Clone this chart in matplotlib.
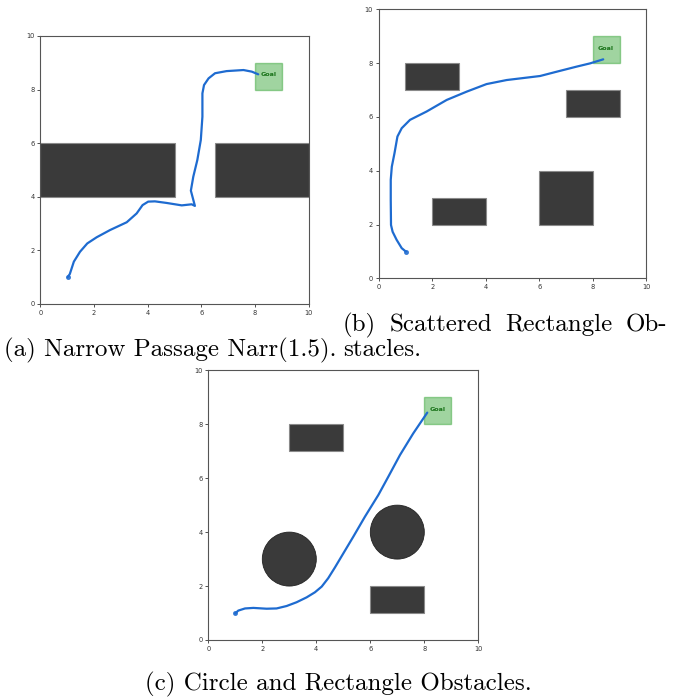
import matplotlib
matplotlib.use("Agg")
import matplotlib.pyplot as plt
from matplotlib.patches import Rectangle, Circle

W, H = 673, 698

# obstacles: (x, y, width, height) rectangles and (cx, cy, r) circles
narrow_rects = [(0, 4, 5, 2), (6.5, 4, 3.5, 2)]
scatter_rects = [(1, 7, 2, 1), (7, 6, 2, 1), (2, 2, 2, 1), (6, 2, 2, 2)]
mixed_rects = [(3, 7, 2, 1), (6, 1, 2, 1)]
mixed_circles = [(3, 3, 1), (7, 4, 1)]
goal = (8, 8, 1, 1)

# trajectories
path_a_x = [1.02, 1.10, 1.25, 1.48, 1.75, 2.10, 2.60, 3.22, 3.59, 3.81, 4.02, 4.27,
            4.71, 5.27, 5.64, 5.76, 5.61, 5.70, 5.85, 5.98, 6.04, 6.04, 6.10, 6.27,
            6.51, 6.94, 7.57, 7.88, 8.12]
path_a_y = [1.00, 1.12, 1.58, 1.95, 2.26, 2.49, 2.76, 3.05, 3.38, 3.69, 3.82, 3.83,
            3.77, 3.68, 3.72, 3.66, 4.23, 4.75, 5.37, 6.12, 6.99, 7.86, 8.17, 8.42,
            8.61, 8.69, 8.73, 8.67, 8.57]

path_b_x = [1.02, 0.86, 0.67, 0.52, 0.46, 0.45, 0.45, 0.49, 0.59, 0.70, 0.86, 1.17,
            1.79, 2.54, 3.29, 4.03, 4.78, 5.53, 6.03, 6.65, 7.40, 7.90, 8.39]
path_b_y = [0.99, 1.12, 1.43, 1.73, 1.98, 2.91, 3.66, 4.15, 4.65, 5.27, 5.58, 5.89,
            6.20, 6.63, 6.94, 7.22, 7.37, 7.46, 7.52, 7.68, 7.87, 7.99, 8.14]

path_c_x = [1.00, 1.11, 1.36, 1.67, 2.16, 2.53, 2.90, 3.27, 3.64, 3.95, 4.20, 4.44,
            4.69, 5.00, 5.37, 5.80, 6.30, 6.67, 7.10, 7.59, 8.11]
path_c_y = [0.99, 1.09, 1.17, 1.19, 1.16, 1.17, 1.26, 1.40, 1.58, 1.77, 1.98, 2.29,
            2.69, 3.21, 3.83, 4.57, 5.38, 6.06, 6.86, 7.66, 8.43]

ticks = [0, 2, 4, 6, 8, 10]

OBS_FACE = "#3a3a3a"
OBS_EDGE = "#8a8a8a"
PATH_COLOR = "#1e6bd0"


def add_axes_px(fig, left, top, right, bottom):
    return fig.add_axes([left / W, (H - bottom) / H, (right - left) / W, (bottom - top) / H])


def draw_env(ax, rects, circles, px, py):
    for (x, y, w, h) in rects:
        ax.add_patch(Rectangle((x, y), w, h, facecolor=OBS_FACE, edgecolor=OBS_EDGE, lw=0.8))
    for (cx, cy, r) in circles:
        ax.add_patch(Circle((cx, cy), r, facecolor=OBS_FACE, edgecolor="#222222", lw=0.6))
    gx, gy, gw, gh = goal
    ax.add_patch(Rectangle((gx, gy), gw, gh, facecolor="#2ca02c", alpha=0.45,
                           edgecolor="#2ca02c", lw=1.0))
    ax.text(gx + gw / 2, gy + gh / 2 + 0.05, "Goal", color="#1a731a", fontsize=4.6,
            fontweight="bold", ha="center", va="center")
    ax.plot(px, py, color=PATH_COLOR, lw=1.6, solid_capstyle="round")
    ax.plot(px[0], py[0], "o", color=PATH_COLOR, ms=2.6, alpha=0.8)
    ax.set_xlim(0, 10)
    ax.set_ylim(0, 10)
    ax.set_xticks(ticks)
    ax.set_yticks(ticks)
    ax.tick_params(labelsize=4.8, length=2.5, width=0.6, pad=1.5, colors="#333333")
    for s in ax.spines.values():
        s.set_color("#555555")
        s.set_linewidth(0.8)


fig = plt.figure(figsize=(W / 100, H / 100), dpi=100)

ax_a = add_axes_px(fig, 40.3, 36, 308.7, 304)
draw_env(ax_a, narrow_rects, [], path_a_x, path_a_y)

ax_b = add_axes_px(fig, 378.7, 9.3, 646.3, 278.3)
draw_env(ax_b, scatter_rects, [], path_b_x, path_b_y)

ax_c = add_axes_px(fig, 208.3, 370.3, 478.3, 640)
draw_env(ax_c, mixed_rects, mixed_circles, path_c_x, path_c_y)

cap = dict(family="cmr10", fontsize=18, color="black", va="baseline")

# justified first line of caption (b)
words = ["(b)", "Scattered", "Rectangle", "Ob-"]
x_left, x_right, base1, base2 = 343, 667, 331, 356
texts = [fig.text(0, 1 - base1 / H, w, **cap) for w in words]
fig.canvas.draw()
r = fig.canvas.get_renderer()
widths = [t.get_window_extent(r).width for t in texts]
gap = (x_right - x_left - sum(widths)) / (len(words) - 1)
x = x_left
for t, w in zip(texts, widths):
    t.set_x(x / W)
    x += w + gap

fig.text(4 / W, 1 - base2 / H, "(a) Narrow Passage Narr(1.5).", **cap)
fig.text(x_left / W, 1 - base2 / H, "stacles.", **cap)
fig.text(338 / W, 1 - 690 / H, "(c) Circle and Rectangle Obstacles.", ha="center", **cap)

fig.savefig("out.png", dpi=100)
